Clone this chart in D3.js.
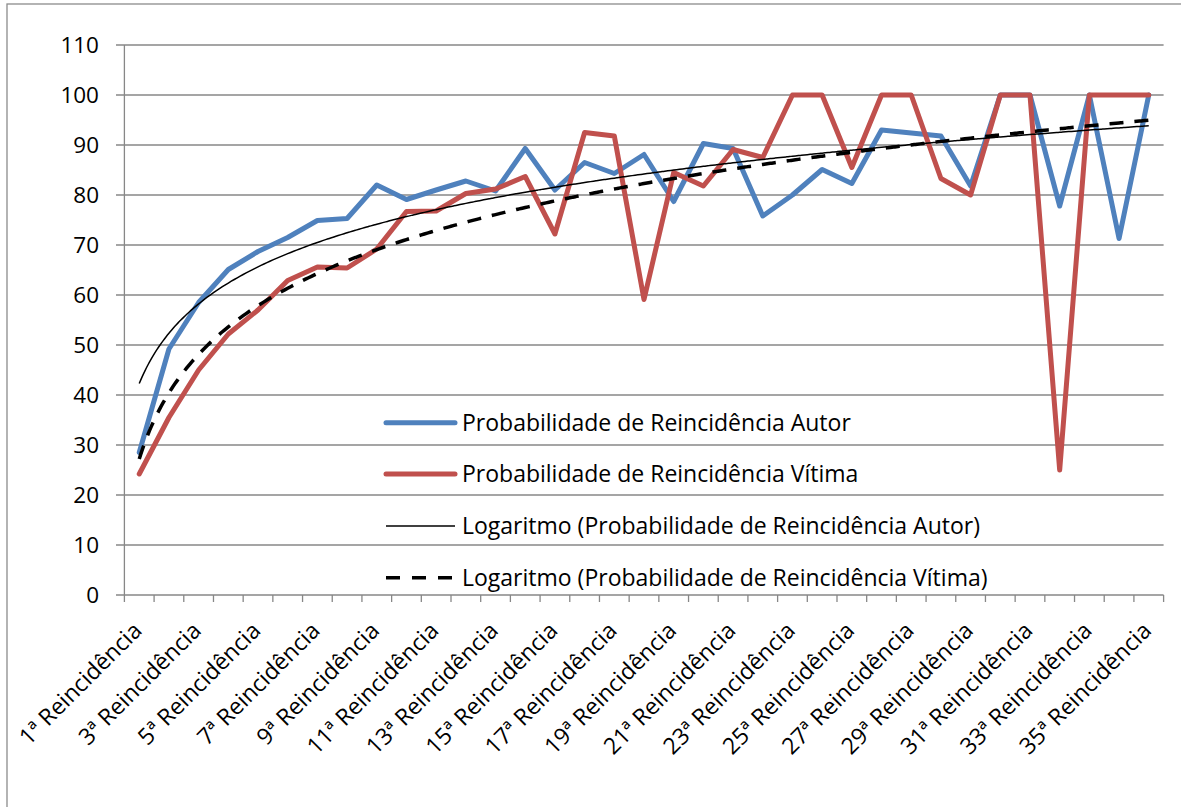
<!DOCTYPE html>
<html><head><meta charset="utf-8">
<script src="https://cdn.jsdelivr.net/npm/d3@7"></script>
<style>
html,body{margin:0;padding:0;background:#fff;}
svg{display:block;}
text{font-family:"Open Sans","Noto Sans",sans-serif;fill:#000;}
</style></head>
<body>
<svg id="chart" width="1181" height="807"></svg>
<script>
const categories = [
 "1ª Reincidência","2ª Reincidência","3ª Reincidência","4ª Reincidência","5ª Reincidência",
 "6ª Reincidência","7ª Reincidência","8ª Reincidência","9ª Reincidência","10ª Reincidência",
 "11ª Reincidência","12ª Reincidência","13ª Reincidência","14ª Reincidência","15ª Reincidência",
 "16ª Reincidência","17ª Reincidência","18ª Reincidência","19ª Reincidência","20ª Reincidência",
 "21ª Reincidência","22ª Reincidência","23ª Reincidência","24ª Reincidência","25ª Reincidência",
 "26ª Reincidência","27ª Reincidência","28ª Reincidência","29ª Reincidência","30ª Reincidência",
 "31ª Reincidência","32ª Reincidência","33ª Reincidência","34ª Reincidência","35ª Reincidência"
];
const autor = [28.5,49.2,58.5,65.1,68.7,71.5,74.9,75.3,82.0,79.1,
               81.0,82.8,80.8,89.3,81.0,86.5,84.3,88.1,78.7,90.3,
               89.3,75.8,80.0,85.1,82.3,93.0,92.4,91.8,81.8,100,
               100,77.8,100,71.3,100];
const vitima = [24.2,35.5,45.0,52.2,57.0,62.9,65.6,65.4,69.2,76.7,
                76.8,80.3,81.2,83.7,72.2,92.5,91.8,59.1,84.5,81.8,
                89.1,87.5,100,100,85.5,100,100,83.3,80.0,100,
                100,25.0,100,100,100];
const yTicks = [0,10,20,30,40,50,60,70,80,90,100,110];
const seriesNames = [
 "Probabilidade de Reincidência Autor",
 "Probabilidade de Reincidência Vítima",
 "Logaritmo (Probabilidade de Reincidência Autor)",
 "Logaritmo (Probabilidade de Reincidência Vítima)"
];

(function () {
const svg = d3.select("#chart");
const pLeft = 124.4, pRight = 1163.6, pTop = 45, pBottom = 595;
const x = d3.scaleBand().domain(categories).range([pLeft, pRight]);
const y = d3.scaleLinear().domain([0, 110]).range([pBottom, pTop]);
const cx = c => x(c) + x.bandwidth() / 2;
const xIdx = d3.scaleLinear().domain([1, categories.length]).range([cx(categories[0]), cx(categories[categories.length - 1])]);

svg.append("rect").attr("x", 7).attr("y", 4).attr("width", 1180).attr("height", 830)
  .attr("fill", "none").attr("stroke", "#8c8c8c").attr("stroke-width", 1.3);

const gray = "#878787";
svg.append("g").selectAll("line").data(yTicks).join("line")
  .attr("x1", 116).attr("x2", pRight).attr("y1", d => y(d)).attr("y2", d => y(d))
  .attr("stroke", gray).attr("stroke-width", 1.3);
svg.append("line").attr("x1", pLeft).attr("x2", pLeft).attr("y1", pTop).attr("y2", pBottom)
  .attr("stroke", gray).attr("stroke-width", 1.3);
svg.append("g").selectAll("text").data(yTicks).join("text")
  .attr("x", 99).attr("y", d => y(d)).attr("dy", "0.36em")
  .attr("text-anchor", "end").style("font-size", "22.5px").text(d => d);
const bounds = categories.map(c => x(c)).concat([pRight]);
svg.append("g").selectAll("line").data(bounds).join("line")
  .attr("x1", d => d).attr("x2", d => d).attr("y1", pBottom).attr("y2", pBottom + 7)
  .attr("stroke", gray).attr("stroke-width", 1.3);
svg.append("g").selectAll("text").data(categories.filter((c, i) => i % 2 === 0)).join("text")
  .attr("text-anchor", "end").style("font-size", "23px")
  .attr("transform", d => `translate(${cx(d) + 4},${632}) rotate(-45)`)
  .text(d => d);

const line = d3.line().x((d, i) => cx(categories[i])).y(d => y(d));
const blue = "#4F81BD", red = "#C0504D";
svg.append("path").datum(autor).attr("d", line).attr("fill", "none")
  .attr("stroke", blue).attr("stroke-width", 5).attr("stroke-linejoin", "round").attr("stroke-linecap", "round");
svg.append("path").datum(vitima).attr("d", line).attr("fill", "none")
  .attr("stroke", red).attr("stroke-width", 5).attr("stroke-linejoin", "round").attr("stroke-linecap", "round");

function logFit(vals) {
  const n = vals.length;
  const lx = vals.map((v, i) => Math.log(i + 1));
  const mx = d3.mean(lx), my = d3.mean(vals);
  let sxy = 0, sxx = 0;
  for (let i = 0; i < n; i++) { sxy += (lx[i] - mx) * (vals[i] - my); sxx += (lx[i] - mx) ** 2; }
  const a = sxy / sxx, b = my - a * mx;
  return t => a * Math.log(t) + b;
}
const ts = d3.range(1, categories.length + 0.001, 0.1);
const tLine = d3.line().x(d => xIdx(d[0])).y(d => y(d[1])).curve(d3.curveMonotoneX);
const fA = logFit(autor), fV = logFit(vitima);
svg.append("path").datum(ts.map(t => [t, fA(t)])).attr("d", tLine).attr("fill", "none")
  .attr("stroke", "#000").attr("stroke-width", 1.5);
svg.append("path").datum(ts.map(t => [t, fV(t)])).attr("d", tLine).attr("fill", "none")
  .attr("stroke", "#000").attr("stroke-width", 3.5).attr("stroke-dasharray", "14,11");

const legY = [422.7, 474, 526, 577.7];
const legStyles = [
  {stroke: blue, w: 5, dash: null, cap: "round"},
  {stroke: red, w: 5, dash: null, cap: "round"},
  {stroke: "#000", w: 1.5, dash: null, cap: "butt"},
  {stroke: "#000", w: 3.5, dash: "14,12", cap: "butt"}
];
const leg = svg.append("g");
seriesNames.forEach((name, i) => {
  const s = legStyles[i];
  leg.append("line").attr("x1", 386).attr("x2", 455).attr("y1", legY[i]).attr("y2", legY[i])
    .attr("stroke", s.stroke).attr("stroke-width", s.w).attr("stroke-linecap", s.cap)
    .attr("stroke-dasharray", s.dash);
  leg.append("text").attr("x", 462).attr("y", legY[i]).attr("dy", "0.36em")
    .style("font-size", "23px").text(name);
});
})();
</script>
</body></html>
